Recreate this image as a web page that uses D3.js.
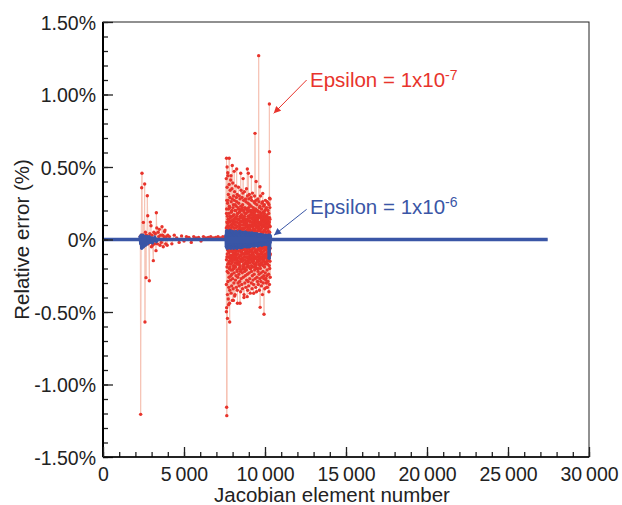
<!DOCTYPE html>
<html><head><meta charset="utf-8">
<script src="https://cdn.jsdelivr.net/npm/d3@7"></script>
<style>
body{margin:0;background:#fff}
svg{display:block;font-family:"Liberation Sans",Arial,Helvetica,sans-serif}
</style>
</head><body>
<svg id="chart" width="622" height="505"></svg>
<script>
// ---------- DATA ----------
const xTickValues = [0, 5000, 10000, 15000, 20000, 25000, 30000];
const xTickLabels = ["0", "5\u2009000", "10\u2009000", "15\u2009000", "20\u2009000", "25\u2009000", "30\u2009000"];
const yTickValues = [1.5, 1.0, 0.5, 0, -0.5, -1.0, -1.5];
const yTickLabels = ["1.50%", "1.00%", "0.50%", "0%", "-0.50%", "-1.00%", "-1.50%"];
const xTitle = "Jacobian element number";
const yTitle = "Relative error (%)";
const seriesNames = ["Epsilon = 1x10", "Epsilon = 1x10"];
const seriesExponents = ["-7", "-6"];

// Epsilon = 1e-7 (red): [element, relative error %]
const redStart = [[0, 0], [2250, 0]];
const redCluster1 = [
  [2300,0.02],[2325,-1.206],[2360,0.03],[2388,0.357],[2407,0.457],[2430,-0.02],[2460,0.03],[2490,0.118],
  [2520,-0.04],[2550,0.02],[2572,0.383],[2590,-0.569],[2620,0.05],[2654,-0.263],[2680,0.03],[2710,-0.02],
  [2736,0.302],[2760,0.164],[2790,-0.03],[2820,0.02],[2860,-0.284],[2890,0.04],[2922,0.12],[2963,0.095],
  [2990,-0.05],[3020,0.03],[3060,-0.04],[3107,-0.146],[3140,0.05],[3180,-0.03],[3230,0.04],[3272,-0.077],
  [3293,0.185],[3320,0.08],[3360,-0.03],[3400,0.05],[3440,0.02],[3478,0.07],[3520,-0.04],[3560,0.03],
  [3600,-0.02],[3642,0.088],[3680,0.03],[3720,-0.05],[3760,0.02],[3800,0.055],[3827,0.065],[3870,-0.03],
  [3910,0.02],[3960,-0.04],[4000,0.03]
];
const redSparse = [
  [4100,0.02],[4250,-0.03],[4400,0.03],[4550,0.01],[4700,-0.02],[4850,0.025],[5000,-0.01],[5150,0.02],
  [5300,0.015],[5450,-0.02],[5600,0.02],[5750,0.01],[5900,0.015],[6050,-0.01],[6200,0.02],[6350,0.01],
  [6500,0.015],[6650,0.02],[6800,0.01],[6950,0.015],[7100,0.02],[7250,0.01],[7400,0.02],[7550,0.015]
];
const redClusterStep = 8;
const redClusterAFirst = 7610;
const redClusterA = [
  0.42,-0.31,0.18,-0.47,0.27,-0.12,0.36,-0.22,0.09,-0.38,
  0.25,-0.17,0.44,-0.29,0.14,-0.41,0.31,-0.08,0.21,-0.33,
  0.07,-0.26,0.38,-0.15,0.23,-0.44,0.12,-0.35,0.29,-0.19,
  0.34,-0.06,0.16,-0.28,0.41,-0.21,0.08,-0.37,0.26,-0.13,
  0.19,-0.32,0.06,-0.24,0.35,-0.16,0.28,-0.42,0.11,-0.27,
  0.39,-0.09,0.22,-0.34,0.13,-0.2,0.3,-0.11,0.17,-0.3,
  0.05,-0.23,0.27,-0.14,0.33,-0.39,0.1,-0.18,0.24,-0.07,
  0.15,-0.28,0.37,-0.12,0.2,-0.25,0.08,-0.33,0.29,-0.16,
  0.26,-0.05,0.12,-0.21,0.31,-0.35,0.18,-0.1,0.04,-0.26,
  0.22,-0.3,0.14,-0.17,0.36,-0.08,0.25,-0.24,0.11,-0.32,
  0.3,-0.13,0.07,-0.29,0.19,-0.19,0.28,-0.06,0.16,-0.22,
  0.1,-0.36,0.23,-0.11,0.34,-0.27,0.06,-0.15,0.21,-0.31,
  0.17,-0.09,0.29,-0.23,0.13,-0.34,0.24,-0.14,0.32,-0.2,
  0.08,-0.26,0.2,-0.07,0.27,-0.18,0.15,-0.38,0.05,-0.12,
  0.33,-0.22,0.11,-0.3,0.22,-0.1,0.18,-0.25,0.28,-0.16,
  0.14,-0.33,0.26,-0.06,0.09,-0.21,0.35,-0.28,0.12,-0.17,
  0.21,-0.12,0.3,-0.24,0.07,-0.35,0.19,-0.09,0.25,-0.29,
  0.06,-0.19,0.16,-0.32,0.28,-0.14,0.1,-0.23,0.31,-0.07,
  0.24,-0.27,0.13,-0.16,0.2,-0.37,0.09,-0.2,0.17,-0.11,
  0.29,-0.08,0.23,-0.3,0.12,-0.22,0.27,-0.13,0.06,-0.34,
  0.18,-0.25,0.32,-0.1,0.15,-0.19,0.08,-0.28,0.22,-0.15,
  0.11,-0.31,0.2,-0.05,0.26,-0.24,0.14,-0.17,0.3,-0.21,
  0.07,-0.13,0.25,-0.27,0.17,-0.09,0.21,-0.33,0.1,-0.18,
  0.27,-0.2,0.13,-0.36,0.05,-0.12,0.24,-0.26,0.16,-0.08,
  0.2,-0.29,0.09,-0.15,0.28,-0.22,0.12,-0.31,0.19,-0.1,
  0.15,-0.17,0.26,-0.24,0.08,-0.35,0.22,-0.14,0.11,-0.27,
  0.23,-0.06,0.16,-0.2,0.3,-0.12,0.07,-0.29,0.18,-0.23,
  0.12,-0.32,0.21,-0.09,0.14,-0.26,0.25,-0.16,0.09,-0.38,
  0.26,-0.14,0.1,-0.22,0.19,-0.3,0.15,-0.11,0.23,-0.25,
  0.06,-0.27,0.18,-0.13,0.24,-0.19,0.13,-0.34,0.2,-0.07,
  0.16,-0.23,0.27,-0.16,0.09,-0.28,0.21,-0.12,0.14,-0.3,
  0.22,-0.1,0.12,-0.25,0.17,-0.21,0.26,-0.33,0.08,-0.17,
  0.13,-0.29,0.2,-0.14,0.25,-0.09,0.11,-0.24,0.18,-0.36,
  0.24,-0.18,0.09,-0.31,0.15,-0.2,0.22,-0.15,0.28,-0.26
];
const redClusterBFirst = 7614;
const redClusterB = [
  0.08,-0.14,0.21,-0.05,0.12,-0.19,0.03,-0.1,0.16,-0.07,
  0.11,-0.04,0.27,-0.12,0.06,-0.23,0.14,-0.03,0.09,-0.16,
  0.18,-0.09,0.04,-0.2,0.13,-0.06,0.22,-0.13,0.05,-0.11,
  0.07,-0.17,0.15,-0.04,0.1,-0.25,0.03,-0.08,0.19,-0.14,
  0.13,-0.06,0.2,-0.11,0.04,-0.15,0.09,-0.21,0.16,-0.05,
  0.05,-0.12,0.11,-0.18,0.24,-0.07,0.14,-0.03,0.08,-0.2,
  0.17,-0.1,0.06,-0.13,0.12,-0.04,0.2,-0.16,0.03,-0.09,
  0.1,-0.19,0.14,-0.06,0.05,-0.11,0.23,-0.08,0.12,-0.14,
  0.04,-0.07,0.16,-0.22,0.09,-0.13,0.06,-0.17,0.18,-0.04,
  0.14,-0.1,0.03,-0.15,0.21,-0.05,0.11,-0.12,0.07,-0.2,
  0.09,-0.16,0.19,-0.08,0.13,-0.03,0.05,-0.18,0.15,-0.11,
  0.2,-0.06,0.08,-0.14,0.04,-0.21,0.12,-0.09,0.17,-0.05,
  0.06,-0.13,0.15,-0.1,0.22,-0.07,0.03,-0.15,0.1,-0.19,
  0.12,-0.04,0.07,-0.17,0.14,-0.12,0.19,-0.06,0.05,-0.1,
  0.16,-0.2,0.1,-0.03,0.08,-0.14,0.13,-0.09,0.21,-0.16,
  0.03,-0.08,0.18,-0.12,0.11,-0.05,0.06,-0.19,0.14,-0.07,
  0.1,-0.15,0.05,-0.1,0.2,-0.13,0.09,-0.04,0.16,-0.18,
  0.13,-0.06,0.22,-0.16,0.04,-0.09,0.15,-0.12,0.07,-0.14,
  0.08,-0.11,0.12,-0.05,0.17,-0.2,0.06,-0.08,0.19,-0.03,
  0.15,-0.13,0.04,-0.18,0.1,-0.07,0.2,-0.1,0.12,-0.15,
  0.05,-0.09,0.14,-0.04,0.09,-0.16,0.03,-0.12,0.16,-0.06,
  0.18,-0.14,0.07,-0.11,0.13,-0.05,0.1,-0.19,0.06,-0.08,
  0.11,-0.03,0.19,-0.13,0.05,-0.17,0.15,-0.07,0.09,-0.12,
  0.04,-0.16,0.12,-0.09,0.2,-0.04,0.08,-0.14,0.13,-0.1,
  0.14,-0.07,0.06,-0.2,0.11,-0.12,0.17,-0.05,0.03,-0.15,
  0.09,-0.11,0.16,-0.06,0.07,-0.13,0.12,-0.18,0.19,-0.04,
  0.06,-0.14,0.1,-0.08,0.15,-0.1,0.04,-0.16,0.11,-0.07,
  0.17,-0.05,0.13,-0.12,0.08,-0.17,0.14,-0.09,0.05,-0.13,
  0.1,-0.18,0.04,-0.06,0.16,-0.11,0.09,-0.14,0.12,-0.05,
  0.13,-0.08,0.18,-0.15,0.06,-0.04,0.11,-0.1,0.15,-0.17,
  0.07,-0.12,0.09,-0.05,0.14,-0.16,0.05,-0.07,0.1,-0.13,
  0.12,-0.04,0.16,-0.11,0.03,-0.09,0.13,-0.15,0.08,-0.06,
  0.15,-0.1,0.06,-0.14,0.11,-0.05,0.09,-0.12,0.04,-0.08,
  0.1,-0.13,0.12,-0.07,0.05,-0.11,0.14,-0.06,0.09,-0.1
];
const redPeaks = [
  [7618,-0.498],[7625,0.56],[7633,-1.157],[7641,-1.215],[7660,0.50],[7682,-0.544],[7700,0.46],[7750,-0.45],
  [7790,0.56],[7820,-0.569],[7900,0.44],[7980,0.51],[8050,-0.42],[8100,0.47],[8150,-0.38],[8250,0.486],
  [8300,-0.44],[8457,-0.44],[8500,0.457],[8650,0.42],[8700,-0.40],[8900,-0.394],[8910,0.486],[8970,0.457],
  [9160,0.433],[9300,-0.371],[9383,0.732],[9450,0.40],[9610,1.268],[9690,0.364],[9700,-0.468],[9860,0.318],
  [9940,-0.516],[10050,-0.268],[10100,-0.33],[10270,0.934],[10278,0.605],[10285,0.284]
];
const redEnd = [[10340, 0], [27450, 0]];

// Epsilon = 1e-6 (blue)
const blueStart = [[0, 0], [2270, 0]];
const blueCluster1 = [
  [2280,0],[2300,0.02],[2330,-0.03],[2360,0.03],[2390,-0.06],[2410,0.02],[2440,-0.04],[2470,0.03],
  [2500,-0.05],[2530,0.02],[2560,-0.03],[2590,0.01],[2620,-0.04],[2650,0.02],[2680,-0.02],[2710,0.02],
  [2740,-0.03],[2770,0.01],[2800,-0.02],[2850,0.02],[2900,-0.02],[2950,0.01],[3000,-0.02],[3050,0.01],
  [3100,-0.01],[3200,0.01],[3300,-0.01],[3400,0]
];
const blueClusterFirst = 7600;
const blueClusterStep = 15;
const blueClusterValues = [
  0.03,-0.05,0.06,-0.04,0.05,-0.06,0.04,-0.05,0.055,-0.035,
  0.045,-0.055,0.03,-0.045,0.05,-0.04,0.06,-0.05,0.035,-0.06,
  0.05,-0.035,0.045,-0.055,0.04,-0.05,0.055,-0.045,0.03,-0.05,
  0.04,-0.06,0.05,-0.04,0.035,-0.055,0.045,-0.035,0.05,-0.045,
  0.055,-0.04,0.035,-0.05,0.045,-0.06,0.04,-0.045,0.05,-0.035,
  0.035,-0.05,0.05,-0.045,0.03,-0.04,0.055,-0.05,0.04,-0.055,
  0.045,-0.035,0.04,-0.055,0.05,-0.045,0.035,-0.04,0.045,-0.05,
  0.04,-0.05,0.03,-0.04,0.045,-0.035,0.05,-0.045,0.035,-0.04,
  0.05,-0.04,0.035,-0.05,0.04,-0.045,0.03,-0.035,0.045,-0.05,
  0.035,-0.045,0.04,-0.035,0.03,-0.05,0.045,-0.04,0.035,-0.045,
  0.04,-0.035,0.03,-0.045,0.035,-0.04,0.045,-0.035,0.03,-0.04,
  0.03,-0.04,0.035,-0.03,0.04,-0.045,0.03,-0.035,0.04,-0.03,
  0.035,-0.03,0.03,-0.04,0.025,-0.035,0.04,-0.03,0.03,-0.045,
  0.03,-0.035,0.025,-0.03,0.035,-0.04,0.03,-0.025,0.035,-0.03,
  0.025,-0.03,0.035,-0.035,0.03,-0.025,0.025,-0.04,0.03,-0.035,
  0.03,-0.025,0.025,-0.03,0.02,-0.035,0.03,-0.025,0.025,-0.03,
  0.02,-0.03,0.03,-0.025,0.025,-0.03,0.02,-0.035,0.025,-0.02,
  0.025,-0.02,0.02,-0.03,0.03,-0.025,0.02,-0.13,0.025,-0.06,
  0.03,-0.02,0.02
];
const blueEnd = [[10345, 0], [27450, 0]];

// annotation anchors (data coordinates)
const labelPos = [[12780, 1.05], [12780, 0.176]];
const arrowFrom = [[12570, 1.10], [12570, 0.208]];
const arrowTo = [[10540, 0.87], [10560, 0.03]];
const colors = {red: "#e8342c", redLine: "#f6c4b6", blue: "#3a56a6"};

// ---------- BUILD SERIES ----------
const redBulkA = redClusterA.map((v, i) => [redClusterAFirst + i * redClusterStep, v]);
const redBulkB = redClusterB.map((v, i) => [redClusterBFirst + i * redClusterStep, v]);
const redMid = redBulkA.concat(redBulkB, redPeaks).sort((a, b) => a[0] - b[0]);
const redSeries = [].concat(redStart, redCluster1, redSparse, redMid, redEnd);
const redMarkers = [].concat(redCluster1, redSparse, redMid);
const blueBulk = blueClusterValues.map((v, i) => [blueClusterFirst + i * blueClusterStep, v]);
const blueSeries = [].concat(blueStart, blueCluster1, [[3500, 0], [7590, 0]], blueBulk, blueEnd);
const blueMarkers = [].concat(blueCluster1, blueBulk);

// ---------- CHART ----------
const svg = d3.select("#chart");
const x = d3.scaleLinear().domain([0, 30000]).range([103, 589]);
const y = d3.scaleLinear().domain([-1.5, 1.5]).range([457, 22]);

const defs = svg.append("defs");
[["arrRed", colors.red], ["arrBlue", colors.blue]].forEach(([id, c]) => {
  defs.append("marker").attr("id", id).attr("viewBox", "0 0 10 10")
    .attr("refX", 10).attr("refY", 5).attr("markerWidth", 10).attr("markerHeight", 7)
    .attr("markerUnits", "userSpaceOnUse").attr("orient", "auto")
    .append("path").attr("d", "M0,0L10,5L0,10Z").attr("fill", c);
});

const line = d3.line().x(d => x(d[0])).y(d => y(d[1]));
const plot = svg.append("g");

// red series
plot.append("path").datum(redSeries).attr("d", line)
  .attr("fill", "none").attr("stroke", colors.redLine).attr("stroke-width", 1);
plot.append("g").selectAll("circle").data(redMarkers).join("circle")
  .attr("cx", d => x(d[0])).attr("cy", d => y(d[1])).attr("r", 1.7).attr("fill", colors.red);

// blue series
plot.append("path").datum(blueSeries).attr("d", line)
  .attr("fill", "none").attr("stroke", colors.blue).attr("stroke-width", 3.4);
plot.append("g").selectAll("circle").data(blueMarkers).join("circle")
  .attr("cx", d => x(d[0])).attr("cy", d => y(d[1])).attr("r", 1.7).attr("fill", colors.blue);

// frame
svg.append("rect").attr("x", x(0)).attr("y", y(1.5))
  .attr("width", x(30000) - x(0)).attr("height", y(-1.5) - y(1.5))
  .attr("fill", "none").attr("stroke", "#222").attr("stroke-width", 1);

// axes
const fontSize = 19.5;
const yMinor = d3.range(-15, 16).map(v => v / 10);
const xMinor = d3.range(0, 31).map(v => v * 1000);

const gy = svg.append("g").attr("transform", `translate(${x(0)},0)`);
gy.call(d3.axisLeft(y).tickValues(yMinor).tickSize(-5).tickFormat(""));
gy.call(g => g.select(".domain").remove());
const gy2 = svg.append("g").attr("transform", `translate(${x(0)},0)`);
gy2.call(d3.axisLeft(y).tickValues(yTickValues).tickSize(-10).tickPadding(7)
  .tickFormat((d, i) => yTickLabels[i]));
gy2.select(".domain").attr("stroke-width", 2).attr("d", `M0,${y(1.5)}V${y(-1.5)}`);

const gx = svg.append("g").attr("transform", `translate(0,${y(-1.5)})`);
gx.call(d3.axisBottom(x).tickValues(xMinor).tickSize(-5).tickFormat(""));
gx.call(g => g.select(".domain").remove());
const gx2 = svg.append("g").attr("transform", `translate(0,${y(-1.5)})`);
gx2.call(d3.axisBottom(x).tickValues(xTickValues).tickSize(-10).tickPadding(10)
  .tickFormat((d, i) => xTickLabels[i]));
gx2.select(".domain").attr("stroke-width", 1.6).attr("d", `M${x(0)},0H${x(30000)}`);

svg.selectAll(".tick line").attr("stroke", "#222").attr("stroke-width", 1.3);
svg.selectAll(".tick text").attr("font-size", fontSize).attr("fill", "#222")
  .attr("font-family", "Liberation Sans, Arial, sans-serif");
gy2.selectAll(".tick text").attr("dy", "0.36em");
gx2.selectAll(".tick text").attr("dy", "0.71em");

// titles
svg.append("text").attr("x", 332).attr("y", 502)
  .attr("text-anchor", "middle").attr("font-size", 20.5).attr("fill", "#222").text(xTitle);
svg.append("text").attr("transform", `translate(29,${y(0)}) rotate(-90)`)
  .attr("text-anchor", "middle").attr("font-size", 20.5).attr("fill", "#222").text(yTitle);

// annotations
const annColors = [colors.red, colors.blue];
const arrowIds = ["arrRed", "arrBlue"];
labelPos.forEach((p, i) => {
  const t = svg.append("text").attr("x", x(p[0])).attr("y", y(p[1]))
    .attr("font-size", 20.5).attr("fill", annColors[i]);
  t.append("tspan").text(seriesNames[i]);
  t.append("tspan").attr("dy", -7).attr("font-size", 14).text(seriesExponents[i]);
  svg.append("line")
    .attr("x1", x(arrowFrom[i][0])).attr("y1", y(arrowFrom[i][1]))
    .attr("x2", x(arrowTo[i][0])).attr("y2", y(arrowTo[i][1]))
    .attr("stroke", annColors[i]).attr("stroke-width", 1)
    .attr("marker-end", `url(#${arrowIds[i]})`);
});
</script>
</body></html>
